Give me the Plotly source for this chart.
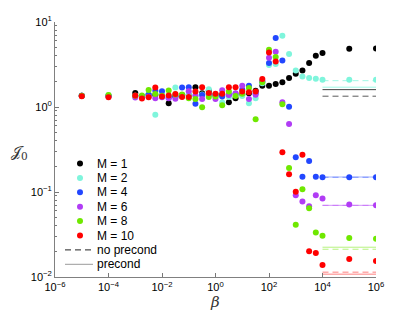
import plotly.graph_objects as go

# ---------------- data ----------------
beta_exp = [-5, -4, -3, -2.75, -2.5, -2.25, -2, -1.75, -1.5, -1.25, -1, -0.75, -0.5,
            -0.25, 0, 0.25, 0.5, 0.75, 1, 1.25, 1.5, 1.75, 2, 2.25, 2.5, 2.75, 3,
            3.25, 3.5, 3.75, 4, 5, 6]
beta = [10 ** e for e in beta_exp]

series_names = ["M = 1", "M = 2", "M = 4", "M = 6", "M = 8", "M = 10"]
series_colors = ["#000000", "#7ff5dc", "#2247ff", "#b13cf5", "#6fe800", "#ff0000"]

J_M1 = [1.36, 1.36, 1.46, 1.33, 1.40, 1.38, 1.36, 1.11, 1.33, 1.38, 1.38, 1.71, 1.45,
        1.55, 1.40, 1.38, 1.14, 1.27, 1.40, 1.45, 1.55, 1.78, 1.78, 1.86, 1.96, 2.19,
        2.46, 2.69, 3.29, 4.01, 4.31, 4.85, 4.89]
J_M2 = [1.36, 1.38, 1.36, 1.35, 1.40, 0.81, 1.38, 1.35, 1.70, 1.33, 1.40, 1.35, 1.40,
        1.62, 1.38, 1.13, 1.31, 1.38, 1.35, 1.11, 1.27, 1.90, 3.12, 3.20, 6.90, 4.20,
        2.69, 2.29, 2.19, 2.15, 2.09, 2.09, 2.09]
J_M4 = [1.36, 1.35, 1.36, 1.33, 1.38, 1.55, 1.53, 1.29, 1.35, 1.70, 1.71, 1.09, 1.38,
        1.40, 1.35, 1.33, 1.40, 1.42, 1.60, 1.78, 1.45, 2.00, 3.29, 6.48, 3.53, 1.01,
        0.257, 0.151, 0.232, 0.151, 0.149, 0.149, 0.149]
J_M6 = [1.36, 1.32, 1.29, 1.30, 1.32, 1.27, 1.30, 1.27, 1.25, 1.35, 1.53, 1.37, 1.24,
        1.38, 1.24, 1.57, 1.38, 1.45, 1.78, 1.24, 1.39, 2.02, 3.80, 4.47, 1.14, 0.63,
        0.0917, 0.0771, 0.0681, 0.0917, 0.0836, 0.0711, 0.0700]
J_M8 = [1.36, 1.38, 1.36, 1.37, 1.58, 1.42, 1.36, 1.56, 1.40, 1.40, 1.27, 1.24, 0.99,
        1.31, 1.33, 1.05, 1.52, 1.35, 1.43, 1.67, 0.72, 1.95, 4.72, 3.87, 1.08, 0.191,
        0.0413, 0.108, 0.0644, 0.0333, 0.0306, 0.0288, 0.0281]
J_M10 = [1.34, 1.30, 1.37, 1.26, 1.30, 1.70, 1.33, 1.37, 1.42, 1.31, 1.31, 1.52, 1.71,
         1.46, 1.43, 1.43, 1.71, 1.71, 1.52, 1.49, 1.52, 2.14, 4.38, 3.44, 0.294, 0.162,
         0.101, 0.274, 0.0201, 0.0192, 0.0138, 0.0163, 0.0154]
series_values = [J_M1, J_M2, J_M4, J_M6, J_M8, J_M10]

# reference levels drawn over beta in [1e4, 1e6]
ref_beta = [1e4, 1e6]
ref_noprecond = [1.34, 2.04, 0.149, 0.0697, 0.0212, 0.0114]
ref_precond = [1.60, 1.71, 0.150, 0.0697, 0.0224, 0.0108]

x_tick_vals = [1e-6, 1e-4, 1e-2, 1e0, 1e2, 1e4, 1e6]
x_tick_text = ["10<sup>−6</sup>", "10<sup>−4</sup>", "10<sup>−2</sup>", "10<sup>0</sup>",
               "10<sup>2</sup>", "10<sup>4</sup>", "10<sup>6</sup>"]
y_tick_vals = [1e-2, 1e-1, 1e0, 1e1]
y_tick_text = ["10<sup>−2</sup>", "10<sup>−1</sup>", "10<sup>0</sup>", "10<sup>1</sup>"]

legend_labels = series_names + ["no precond", "precond"]

# ---------------- figure ----------------
W, H = 415, 312
L, R, T, B = 55, 39, 22, 35
PW, PH = W - L - R, H - T - B
FONT = "Liberation Sans, Arial, Helvetica, sans-serif"

fig = go.Figure()

line_colors_np = ["rgba(0,0,0,0.65)", "rgba(127,245,220,0.75)", "rgba(34,71,255,0.45)",
                  "rgba(177,60,245,0.45)", "rgba(111,232,0,0.5)", "rgba(255,0,0,0.5)"]
line_colors_p = ["rgba(0,0,0,0.75)", "rgba(127,245,220,0.75)", "rgba(34,71,255,0.45)",
                 "rgba(177,60,245,0.55)", "rgba(111,232,0,0.5)", "rgba(255,0,0,0.5)"]

for i in range(len(series_names)):
    fig.add_trace(go.Scatter(x=ref_beta, y=[ref_noprecond[i]] * 2, mode="lines",
                             line=dict(color=line_colors_np[i], width=1, dash="6px,4px"),
                             showlegend=False, hoverinfo="skip"))
    fig.add_trace(go.Scatter(x=ref_beta, y=[ref_precond[i]] * 2, mode="lines",
                             line=dict(color=line_colors_p[i], width=1),
                             showlegend=False, hoverinfo="skip"))

for name, vals, col in zip(series_names, series_values, series_colors):
    fig.add_trace(go.Scatter(x=beta, y=vals, mode="markers", name=name,
                             marker=dict(color=col, size=6, line=dict(width=0)),
                             showlegend=False))

# ---------------- custom legend ----------------
def px_x(x):
    return (x - L) / PW


def px_y(y):
    return (H - B - y) / PH


shapes = []
annotations = []
row0, dy = 163.5, 14.4
for k, lab in enumerate(legend_labels):
    yy = row0 + k * dy
    if k < len(series_names):
        shapes.append(dict(type="circle", xref="paper", yref="paper",
                           xsizemode="pixel", ysizemode="pixel",
                           xanchor=px_x(80), yanchor=px_y(yy),
                           x0=-3, x1=3, y0=-3, y1=3,
                           fillcolor=series_colors[k], line=dict(width=0)))
    else:
        dashed = lab == "no precond"
        shapes.append(dict(type="line", xref="paper", yref="paper",
                           x0=px_x(65), x1=px_x(93), y0=px_y(yy), y1=px_y(yy),
                           line=dict(color="#222222" if dashed else "#9a9a9a", width=1,
                                     dash="6px,4px" if dashed else "solid")))
    annotations.append(dict(text=lab, xref="paper", yref="paper", x=px_x(95),
                            y=px_y(yy), xanchor="left", yanchor="middle",
                            showarrow=False, font=dict(size=12, color="black", family=FONT)))

# axis titles
annotations.append(dict(text="<i>β</i>", xref="paper", yref="paper", x=px_x(215),
                        y=px_y(302), xanchor="center", yanchor="middle", showarrow=False,
                        font=dict(size=15, color="#333333", family="DejaVu Serif")))
annotations.append(dict(text="𝒥<sub>0</sub>", xref="paper", yref="paper", x=px_x(19),
                        y=px_y(152), xanchor="center", yanchor="middle", showarrow=False,
                        font=dict(size=15, color="#333333", family="DejaVu Serif")))

fig.update_layout(
    width=W, height=H,
    margin=dict(l=L, r=R, t=T, b=B, pad=0),
    paper_bgcolor="white", plot_bgcolor="white",
    font=dict(family=FONT, size=11, color="black"),
    showlegend=False,
    shapes=shapes, annotations=annotations,
    xaxis=dict(type="log", range=[-6, 6], tickmode="array", tickvals=x_tick_vals,
               ticktext=x_tick_text, ticks="inside", ticklen=4, tickcolor="#777777",
               showline=True, linecolor="#808080", linewidth=1, showgrid=False,
               zeroline=False, tickfont=dict(size=11, color="black", family=FONT)),
    yaxis=dict(type="log", range=[-2, 1], tickmode="array", tickvals=y_tick_vals,
               ticktext=y_tick_text, ticks="inside", ticklen=4, tickcolor="#777777",
               showline=True, linecolor="#808080", linewidth=1, showgrid=False,
               zeroline=False, tickfont=dict(size=11, color="black", family=FONT),
               minor=dict(ticks="inside", ticklen=2, tickcolor="#777777", dtick="D1",
                          showgrid=False)),
)

fig.write_html("out.html", config={"displayModeBar": False},
               post_script="document.body.style.margin='0';document.body.style.overflow='hidden';")
